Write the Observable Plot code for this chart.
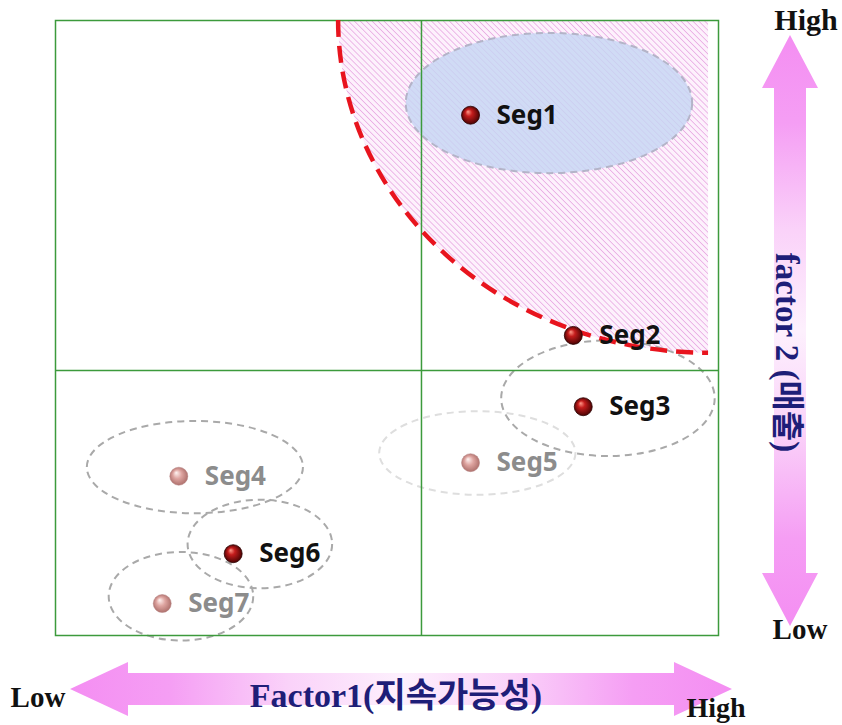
<!DOCTYPE html>
<html><head><meta charset="utf-8">
<script src="https://cdn.jsdelivr.net/npm/d3@7"></script>
<script src="https://cdn.jsdelivr.net/npm/@observablehq/plot@0.6"></script>
<style>body{margin:0;background:#fff}</style>
</head><body><div id="chart"></div>
<script>
// ---- data ----
const segNames    = ["Seg1","Seg2","Seg3","Seg4","Seg5","Seg6","Seg7"];
const factor1     = [6.26, 7.81, 7.96, 1.86, 6.26, 2.68, 1.61];
const factor2     = [8.46, 4.88, 3.72, 2.59, 2.81, 1.33, 0.52];
const highlighted = [true, true, true, false, false, true, false];

const ellipseSeg = ["Seg1","Seg3","Seg4","Seg5","Seg6","Seg7"];
const ellipseCx  = [7.45, 8.34, 2.11, 6.37, 3.09, 1.90];
const ellipseCy  = [8.65, 3.85, 2.73, 2.96, 1.48, 0.63];
const ellipseRx  = [2.16, 1.61, 1.63, 1.48, 1.09, 1.09];
const ellipseRy  = [1.14, 0.94, 0.75, 0.68, 0.72, 0.72];

const frontierCenter = [9.85, 10];
const frontierRadii  = [5.58, 5.41];
const xMid = 5.52, yMid = 4.31;

const xTitle = "Factor1(지속가능성)";
const yTitle = "factor 2 (매출)";
const lowLabel = "Low", highLabel = "High";

const segs = segNames.map((name, i) => ({name, x: factor1[i], y: factor2[i], hi: highlighted[i]}));
const ellipses = ellipseSeg.map((seg, i) => ({seg, cx: ellipseCx[i], cy: ellipseCy[i], rx: ellipseRx[i], ry: ellipseRy[i]}));

function layer(draw) {
  return (index, scales, values, dimensions) => {
    const g = d3.create("svg:g");
    draw(g, scales, dimensions);
    return g.node();
  };
}

// defs + hatched frontier region
const regionLayer = layer((g, {x, y}) => {
  const defs = g.append("defs");
  const pat = defs.append("pattern").attr("id", "hatch").attr("patternUnits", "userSpaceOnUse")
    .attr("width", 4.2).attr("height", 4.2).attr("patternTransform", "rotate(-45)");
  pat.append("rect").attr("width", 4.2).attr("height", 4.2).attr("fill", "#fdf1fc");
  pat.append("line").attr("x1", 0).attr("y1", 0).attr("x2", 0).attr("y2", 4.2)
    .attr("stroke", "#e49ade").attr("stroke-width", 1.3);
  const mk = (id, stops) => {
    const rg = defs.append("radialGradient").attr("id", id).attr("cx", "50%").attr("cy", "50%").attr("r", "55%").attr("fx", "35%").attr("fy", "30%");
    stops.forEach(([o, c]) => rg.append("stop").attr("offset", o).attr("stop-color", c));
  };
  mk("dotDark", [[0, "#ff9a8a"], [0.35, "#c41c1c"], [1, "#3e0000"]]);
  mk("dotLight", [[0, "#fff4f2"], [0.45, "#dea4a0"], [1, "#a86a66"]]);

  const [fcx, fcy] = frontierCenter, [frx, fry] = frontierRadii;
  const rxPx = x(fcx) - x(fcx - frx), ryPx = y(fcy - fry) - y(fcy);
  g.append("path")
    .attr("d", `M${x(fcx - frx)},${y(fcy)} A${rxPx},${ryPx} 0 0 0 ${x(fcx)},${y(fcy - fry)} L${x(fcx)},${y(fcy)} Z`)
    .attr("fill", "url(#hatch)");
});

const ellipseLayer = layer((g, {x, y}) => {
  ellipses.forEach(e => {
    const el = g.append("ellipse")
      .attr("cx", x(e.cx)).attr("cy", y(e.cy))
      .attr("rx", x(e.rx) - x(0)).attr("ry", y(0) - y(e.ry))
      .attr("stroke-dasharray", "7,5").attr("stroke-width", 2);
    if (e.seg === "Seg1") el.attr("fill", "#c6d6f3").attr("fill-opacity", 0.82).attr("stroke", "#b4b4c8");
    else if (e.seg === "Seg5") el.attr("fill", "none").attr("stroke", "#dedede");
    else el.attr("fill", "none").attr("stroke", "#a9a9a9");
  });
});

const frontierLine = layer((g, {x, y}) => {
  const [fcx, fcy] = frontierCenter, [frx, fry] = frontierRadii;
  const rxPx = x(fcx) - x(fcx - frx), ryPx = y(fcy - fry) - y(fcy);
  g.append("path")
    .attr("d", `M${x(fcx - frx)},${y(fcy)} A${rxPx},${ryPx} 0 0 0 ${x(fcx)},${y(fcy - fry)}`)
    .attr("fill", "none").attr("stroke", "#e8141e").attr("stroke-width", 4.5)
    .attr("stroke-dasharray", "17,9");
});

const arrowLayer = layer((g, scales, {width, height, marginLeft, marginRight, marginTop, marginBottom}) => {
  const defs = g.append("defs");
  const lg = (id, vertical) => {
    const l = defs.append("linearGradient").attr("id", id)
      .attr("x1", 0).attr("y1", 0).attr("x2", vertical ? 0 : 1).attr("y2", vertical ? 1 : 0);
    [[0, "#f48ef2"], [0.15, "#f59ef4"], [0.33, "#fad2f9"], [0.5, "#fdf0fd"], [0.67, "#fad2f9"], [0.85, "#f59ef4"], [1, "#f48ef2"]]
      .forEach(([o, c]) => l.append("stop").attr("offset", o).attr("stop-color", c));
  };
  lg("hGrad", false); lg("vGrad", true);
  const fR = width - marginRight, fB = height - marginBottom;
  // horizontal
  const cy = fB + 54, x0 = marginLeft + 15, x1 = fR + 14, hl = 58, hh = 27, sh = 16;
  g.append("polygon").attr("fill", "url(#hGrad)").attr("points", [
    [x0, cy], [x0 + hl, cy - hh], [x0 + hl, cy - sh], [x1 - hl, cy - sh], [x1 - hl, cy - hh], [x1, cy],
    [x1 - hl, cy + hh], [x1 - hl, cy + sh], [x0 + hl, cy + sh], [x0 + hl, cy + hh]].join(" "));
  // vertical
  const cx = fR + 72, y0 = marginTop + 15, y1 = fB - 9, vl = 53, vw = 28, vs = 16;
  g.append("polygon").attr("fill", "url(#vGrad)").attr("points", [
    [cx, y0], [cx + vw, y0 + vl], [cx + vs, y0 + vl], [cx + vs, y1 - vl], [cx + vw, y1 - vl], [cx, y1],
    [cx - vw, y1 - vl], [cx - vs, y1 - vl], [cx - vs, y0 + vl], [cx - vw, y0 + vl]].join(" "));

  const serif = "'Liberation Serif','DejaVu Serif','Noto Sans CJK KR',serif";
  const t = (txt, px, py, anchor, size, weight, color) => g.append("text")
    .attr("x", px).attr("y", py).attr("text-anchor", anchor)
    .attr("font-family", serif).attr("font-size", size).attr("font-weight", weight)
    .attr("fill", color).text(txt);
  t(xTitle, 396, fB + 72, "middle", 34, "bold", "#1e1e78");
  t(lowLabel, marginLeft - 17, fB + 72, "middle", 29, "bold", "#111");
  t(highLabel, fR - 2, fB + 82, "middle", 28, "bold", "#111");
  t(highLabel, cx + 16, marginTop + 10, "middle", 30, "bold", "#111");
  t(lowLabel, cx + 10, fB + 4, "middle", 29, "bold", "#111");
  g.append("text").attr("transform", `translate(${cx - 14},${(y0 + y1) / 2 + 22}) rotate(90)`)
    .attr("text-anchor", "middle").attr("font-family", serif).attr("font-size", 33)
    .attr("font-weight", "bold").attr("fill", "#1e1e78").text(yTitle);
});

const chart = Plot.plot({
  width: 842, height: 725,
  marginLeft: 55, marginRight: 124, marginTop: 20, marginBottom: 90,
  x: {domain: [0, 10], axis: null},
  y: {domain: [0, 10], axis: null},
  marks: [
    regionLayer,
    ellipseLayer,
    Plot.ruleX([xMid], {stroke: "#3c9a3c", strokeWidth: 1.5}),
    Plot.ruleY([yMid], {stroke: "#3c9a3c", strokeWidth: 1.5}),
    Plot.frame({stroke: "#3c9a3c", strokeWidth: 1.5}),
    frontierLine,
    Plot.dot(segs.filter(d => !d.hi), {x: "x", y: "y", r: 9, fill: "url(#dotLight)", stroke: "#b58080", strokeWidth: 0.5}),
    Plot.dot(segs.filter(d => d.hi), {x: "x", y: "y", r: 9, fill: "url(#dotDark)", stroke: "#2a0000", strokeWidth: 0.8}),
    Plot.text(segs, {x: "x", y: "y", text: "name", dx: 26, textAnchor: "start",
      fontSize: 26, fontWeight: "bold", fontFamily: "'Noto Sans','Open Sans',sans-serif",
      fill: d => d.hi ? "#111" : "#8c8c8c"}),
    arrowLayer
  ]
});
document.getElementById("chart").append(chart);
</script>
</body></html>
